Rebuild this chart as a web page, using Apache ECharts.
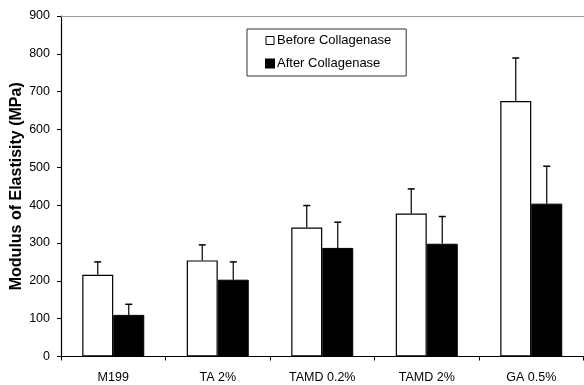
<!DOCTYPE html>
<html><head><meta charset="utf-8">
<script src="https://cdn.jsdelivr.net/npm/echarts@6/dist/echarts.min.js"></script>
<style>html,body{margin:0;padding:0;background:#fff}#c{width:584px;height:385px}</style>
</head><body><div id="c"></div>
<script>
const categories = ['M199', 'TA 2%', 'TAMD 0.2%', 'TAMD 2%', 'GA 0.5%'];
const beforeValues = [216, 254, 341, 378, 675];
const beforeErrors = [250, 295, 399, 443, 789];
const afterValues = [110, 203, 287, 298, 404];
const afterErrors = [138, 250, 355, 370, 503];
const yTicks = { min: 0, max: 900, interval: 100 };

const chart = echarts.init(document.getElementById('c'), null, { renderer: 'canvas' });
const font = 'Liberation Sans';

function errSeries(vals, errs, seriesIdx) {
  return {
    type: 'custom',
    name: 'err' + seriesIdx,
    silent: true,
    z: 5,
    data: vals.map((v, i) => [i, v, errs[i]]),
    renderItem: function (params, api) {
      const i = api.value(0);
      const base = api.coord([i, api.value(1)]);
      const top = api.coord([i, api.value(2)]);
      const barW = 31;
      const cx = base[0] + (seriesIdx === 0 ? -barW / 2 : barW / 2);
      const cap = 3.5;
      return {
        type: 'group',
        children: [
          { type: 'line', shape: { x1: cx, y1: base[1], x2: cx, y2: top[1] }, style: { stroke: '#000', lineWidth: 1.2 } },
          { type: 'line', shape: { x1: cx - cap, y1: top[1], x2: cx + cap, y2: top[1] }, style: { stroke: '#000', lineWidth: 1.5 } }
        ]
      };
    }
  };
}

chart.setOption({
  animation: false,
  backgroundColor: '#fff',
  grid: { left: 61, right: 0.5, top: 16, bottom: 28.5, containLabel: false, outerBoundsMode: 'none' },
  legend: {
    orient: 'vertical',
    left: 247, top: 29,
    data: [
      { name: 'Before Collagenase', itemStyle: { color: '#fff', borderColor: '#000', borderWidth: 1 } },
      { name: 'After Collagenase', itemStyle: { color: '#000' } }
    ],
    icon: 'rect', itemWidth: 8, itemHeight: 8, itemGap: 8,
    padding: [4, 15, 5, 18],
    borderColor: '#333', borderWidth: 1,
    textStyle: { fontFamily: font, fontSize: 13, color: '#000', lineHeight: 15, padding: [0, 0, 0, -2] }
  },
  xAxis: [{
    type: 'category', data: categories,
    axisLine: { lineStyle: { color: '#000', width: 1.2 } },
    axisTick: { show: true, alignWithLabel: false, length: 4, lineStyle: { color: '#000' } },
    axisLabel: { fontFamily: font, fontSize: 12.5, color: '#000', margin: 15 }
  }, {
    type: 'category', data: categories, position: 'top',
    axisLine: { show: true, lineStyle: { color: '#999', width: 1 } },
    axisTick: { show: false }, axisLabel: { show: false }
  }],
  yAxis: {
    type: 'value', min: yTicks.min, max: yTicks.max, interval: yTicks.interval,
    name: 'Modulus of Elastisity (MPa)', nameLocation: 'middle', nameGap: 36, nameMoveOverlap: false,
    nameTextStyle: { fontFamily: font, fontSize: 16, fontWeight: 'bold', color: '#000' },
    axisLine: { show: true, lineStyle: { color: '#000', width: 1.2 } },
    axisTick: { show: true, length: 4, lineStyle: { color: '#000' } },
    axisLabel: { fontFamily: font, fontSize: 12.5, color: '#000', margin: 11 },
    splitLine: { show: false }
  },
  series: [
    { name: 'Before Collagenase', type: 'bar', data: beforeValues, barWidth: 31, barGap: '0%',
      itemStyle: { color: '#fff', borderColor: '#000', borderWidth: 1.2 } },
    { name: 'After Collagenase', type: 'bar', data: afterValues, barWidth: 31, barGap: '0%',
      itemStyle: { color: '#000', borderColor: '#000', borderWidth: 1 } },
    errSeries(beforeValues, beforeErrors, 0),
    errSeries(afterValues, afterErrors, 1)
  ]
});
</script></body></html>
